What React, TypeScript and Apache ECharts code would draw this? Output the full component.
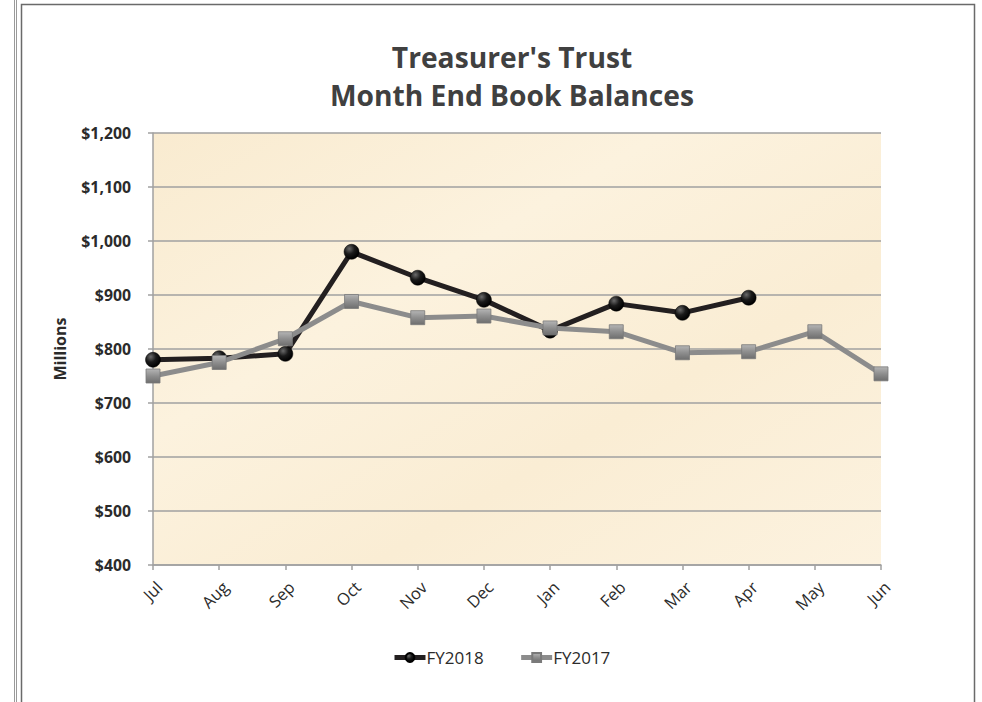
import React, { useEffect, useRef } from "react";
import * as echarts from "echarts";

const months = ["Jul", "Aug", "Sep", "Oct", "Nov", "Dec", "Jan", "Feb", "Mar", "Apr", "May", "Jun"];
const fy2018 = [780, 783, 791, 980, 932, 891, 834, 884, 867, 895, null, null];
const fy2017 = [750, 775, 819, 888, 858, 861, 839, 832, 793, 795, 832, 754];
const titleLines = ["Treasurer's Trust", "Month End Book Balances"];

export default function App() {
  const ref = useRef<HTMLDivElement>(null);
  useEffect(() => {
    if (!ref.current) return;
    const chart = echarts.init(ref.current, null, { renderer: "svg" });
    const font = "'Open Sans', 'Noto Sans', sans-serif";
    const textColor = "#2b2b2b";
    const circleFill = new echarts.graphic.RadialGradient(0.35, 0.3, 0.7, [
      { offset: 0, color: "#6a6a6a" },
      { offset: 0.5, color: "#1a1a1a" },
      { offset: 1, color: "#000000" },
    ]);
    const squareFill = new echarts.graphic.LinearGradient(0, 0, 0, 1, [
      { offset: 0, color: "#b5b5b5" },
      { offset: 0.5, color: "#8e8e8e" },
      { offset: 1, color: "#6e6e6e" },
    ]);
    chart.setOption({
      animation: false,
      backgroundColor: "#ffffff",
      title: {
        text: titleLines.join("\n"),
        left: 507,
        textAlign: "center",
        top: 33,
        textStyle: {
          fontFamily: font,
          fontWeight: "bold",
          fontSize: 28.2,
          lineHeight: 38,
          color: "#404040",
        },
      },
      graphic: [
        { type: "line", shape: { x1: 14.5, y1: 0, x2: 14.5, y2: 702 }, style: { stroke: "#9a9a9a", lineWidth: 1 } },
        { type: "line", shape: { x1: 16.5, y1: 0, x2: 16.5, y2: 702 }, style: { stroke: "#9a9a9a", lineWidth: 1 } },
        { type: "rect", shape: { x: 21.5, y: 4.5, width: 953, height: 720 }, style: { fill: "none", stroke: "#6a6a6a", lineWidth: 1.5 } },
      ],
      grid: {
        left: 153,
        right: 101,
        top: 133,
        bottom: 137,
        show: true,
        borderWidth: 0,
        backgroundColor: new echarts.graphic.LinearGradient(0, 0, 1, 1, [
          { offset: 0, color: "#f9ebd0" },
          { offset: 0.35, color: "#fcf2de" },
          { offset: 0.65, color: "#faedd4" },
          { offset: 1, color: "#fcf2df" },
        ]),
      },
      legend: {
        bottom: 31,
        left: 387,
        itemGap: 35,
        itemWidth: 31,
        itemHeight: 11,
        lineStyle: { width: 5 },
        textStyle: { fontFamily: font, fontSize: 17, color: textColor, padding: [0, 0, 0, -4] },
        data: ["FY2018", "FY2017"],
      },
      xAxis: {
        type: "category",
        data: months,
        boundaryGap: false,
        axisLine: { lineStyle: { color: "#a0a0a0", width: 1.5 } },
        axisTick: { show: true, length: 5, lineStyle: { color: "#a0a0a0", width: 1.5 } },
        axisLabel: {
          rotate: 45,
          margin: 13,
          verticalAlign: "top",
          fontFamily: font,
          fontSize: 16.5,
          color: textColor,
          interval: 0,
        },
        splitLine: { show: false },
      },
      yAxis: {
        type: "value",
        min: 400,
        max: 1200,
        interval: 100,
        name: "Millions",
        nameLocation: "middle",
        nameGap: 85,
        nameTextStyle: { fontFamily: font, fontWeight: "bold", fontSize: 16, color: textColor },
        axisLine: { show: true, lineStyle: { color: "#a0a0a0", width: 1.5 } },
        axisTick: { show: true, length: 5, lineStyle: { color: "#a0a0a0", width: 1.5 } },
        axisLabel: {
          margin: 22,
          fontFamily: font,
          fontWeight: "bold",
          fontSize: 15.8,
          color: textColor,
          formatter: (v: number) => "$" + v.toLocaleString("en-US"),
        },
        splitLine: { show: true, lineStyle: { color: "#a0a0a0", width: 1.5 } },
      },
      series: [
        {
          type: "line",
          name: "FY2018",
          data: fy2018,
          z: 3,
          symbol: "circle",
          symbolSize: 15,
          lineStyle: { color: "#231f20", width: 5 },
          itemStyle: { color: circleFill, borderColor: "#000", borderWidth: 0.5 },
        },
        {
          type: "line",
          name: "FY2017",
          data: fy2017,
          z: 4,
          symbol: "rect",
          symbolSize: 14,
          lineStyle: { color: "#8c8c8c", width: 5 },
          itemStyle: { color: squareFill, borderColor: "#7a7a7a", borderWidth: 0.8 },
        },
      ],
    });
    return () => chart.dispose();
  }, []);
  return <div ref={ref} style={{ position: "absolute", left: 0, top: 0, width: 982, height: 702 }} />;
}
